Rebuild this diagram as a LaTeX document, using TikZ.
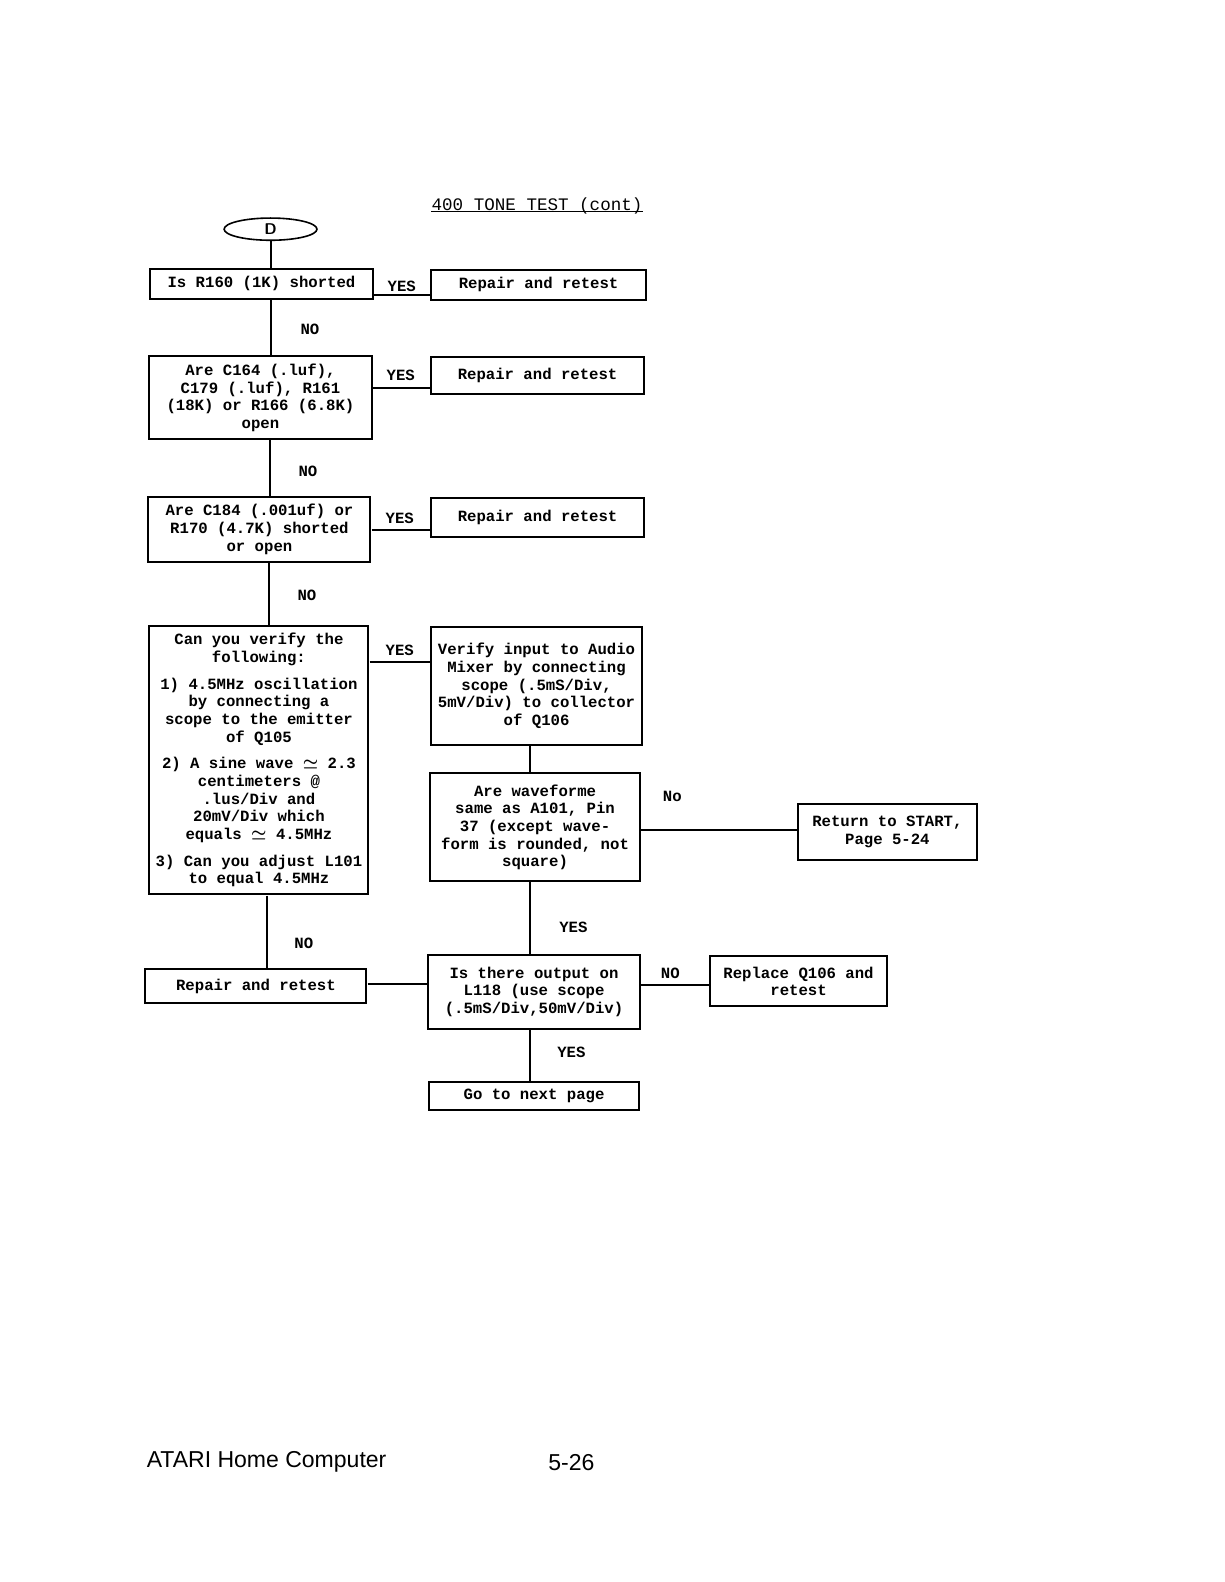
\documentclass[tikz,border=0pt]{standalone}
\usepackage{amsmath}
\usepackage{fontspec}
\newfontfamily\monofam{Liberation Mono}
\newfontfamily\sansfam{Liberation Sans}
\usetikzlibrary{calc,shapes.geometric}
\tikzset{
  box/.style={draw, line width=1pt, align=center, inner sep=0pt,
    font=\fontsize{7.75}{8.75}\selectfont\bfseries\monofam},
  lbl/.style={inner sep=0pt, font=\fontsize{7.75}{8.75}\selectfont\bfseries\monofam},
  conn/.style={line width=1pt}
}
\begin{document}
\begin{tikzpicture}[x=0.5pt,y=-0.5pt]
\useasboundingbox (0,0) rectangle (1224,1582);
\fill[white] (0,0) rectangle (1224,1582);
\begin{scope}[scale=1.0095, transform shape]

% title
\node[inner sep=0pt, font=\fontsize{8.7}{10}\selectfont\monofam] (title) at (532,204) {400 TONE TEST (cont)};
\draw[line width=0.9pt] (title.south west) ++(0,-3) coordinate (tl) (tl) -- (tl -| title.south east);

% connector D
\node[draw, ellipse, line width=0.8pt, minimum width=46pt, minimum height=11pt, inner sep=0pt,
  font=\fontsize{7.7}{8.8}\selectfont\bfseries\sffamily] (d) at (268,227) {D};

% left column
\node[box, minimum width=110pt, minimum height=15pt] (b1) at (259,281) {Is R160 (1K) shorted};
\node[box, minimum width=110pt, minimum height=41pt] (b3) at (258,394)
  {Are C164 (.luf),\\C179 (.luf), R161\\(18K) or R166 (6.8K)\\open};
\node[box, minimum width=110pt, minimum height=32.5pt] (b5) at (257,524.5)
  {Are C184 (.001uf) or\\R170 (4.7K) shorted\\or open};
\node[box, minimum width=108.5pt, minimum height=133pt] (b7) at (256.5,753)
  {Can you verify the\\following:\\[4.5pt]
   1) 4.5MHz oscillation\\by connecting a\\scope to the emitter\\of Q105\\[4.5pt]
   2) A sine wave $\boldsymbol{\simeq}$ 2.3\\centimeters @\\.lus/Div and\\20mV/Div which\\equals $\boldsymbol{\simeq}$ 4.5MHz\\[4.5pt]
   3) Can you adjust L101\\to equal 4.5MHz};
\node[box, minimum width=109.5pt, minimum height=17pt] (b13) at (253.5,977) {Repair and retest};

% right column
\node[box, minimum width=106.5pt, minimum height=15pt] (b2) at (533.5,282) {Repair and retest};
\node[box, minimum width=105.5pt, minimum height=18pt] (b4) at (532.5,372) {Repair and retest};
\node[box, minimum width=105.5pt, minimum height=19.5pt] (b6) at (532.5,512.5) {Repair and retest};
\node[box, minimum width=104.5pt, minimum height=58.5pt] (b8) at (531.5,679.5)
  {Verify input to Audio\\Mixer by connecting\\scope (.5mS/Div,\\5mV/Div) to collector\\of Q106};
\node[box, minimum width=104pt, minimum height=53.5pt] (b9) at (530,819.5)
  {Are waveforme\\same as A101, Pin\\37 (except wave-\\form is rounded, not\\square)};
\node[box, minimum width=105pt, minimum height=36.5pt] (b11) at (529,982.5)
  {Is there output on\\L118 (use scope\\(.5mS/Div,50mV/Div)};
\node[box, minimum width=104pt, minimum height=14pt] (b14) at (529,1086) {Go to next page};

% far right
\node[box, minimum width=89pt, minimum height=28pt] (b10) at (879,824) {Return to START,\\Page 5-24};
\node[box, minimum width=88pt, minimum height=25pt] (b12) at (791,972) {Replace Q106 and\\retest};

% vertical connectors
\draw[conn] (d.south) -- (d.south |- b1.north);
\draw[conn] (b1.south -| 268,0) -- (b3.north -| 268,0);
\draw[conn] (b3.south -| 267,0) -- (b5.north -| 267,0);
\draw[conn] (b5.south -| 266,0) -- (b7.north -| 266,0);
\draw[conn] (b7.south -| 264,0) -- (b13.north -| 264,0);
\draw[conn] (b8.south -| 525,0) -- (b9.north -| 525,0);
\draw[conn] (b9.south -| 525,0) -- (b11.north -| 525,0);
\draw[conn] (b11.south -| 525,0) -- (b14.north -| 525,0);

% horizontal connectors
\draw[conn] (b1.east |- 0,292) -- (b2.west |- 0,292);
\draw[conn] (b3.east |- 0,384) -- (b4.west |- 0,384);
\draw[conn] (b5.east |- 0,525) -- (b6.west |- 0,525);
\draw[conn] (b7.east |- 0,656) -- (b8.west |- 0,656);
\draw[conn] (b9.east |- 0,822) -- (b10.west |- 0,822);
\draw[conn] (b11.east |- 0,976) -- (b12.west |- 0,976);
\draw[conn] (b13.east |- 0,975) -- (b11.west |- 0,975);

% labels
\node[lbl] (y1) at (398,284) {YES};
\node[lbl] (n1) at (307,326) {NO};
\node[lbl] (y2) at (397,372) {YES};
\node[lbl] (n2) at (305,467) {NO};
\node[lbl] (y3) at (396,513) {YES};
\node[lbl] (n3) at (304,590) {NO};
\node[lbl] (y4) at (396,644) {YES};
\node[lbl] (n4) at (666,789) {No};
\node[lbl] (y5) at (568,919) {YES};
\node[lbl] (n5) at (664,964) {NO};
\node[lbl] (n6) at (301,934) {NO};
\node[lbl] (y6) at (566,1042) {YES};

% footer
\node[anchor=west, inner sep=0pt, font=\fontsize{11.4}{13}\selectfont\sansfam] (f1) at (145,1448) {ATARI Home Computer};
\node[inner sep=0pt, font=\fontsize{11.4}{13}\selectfont\sansfam] (f2) at (566,1449) {5-26};
\end{scope}
\end{tikzpicture}
\end{document}
